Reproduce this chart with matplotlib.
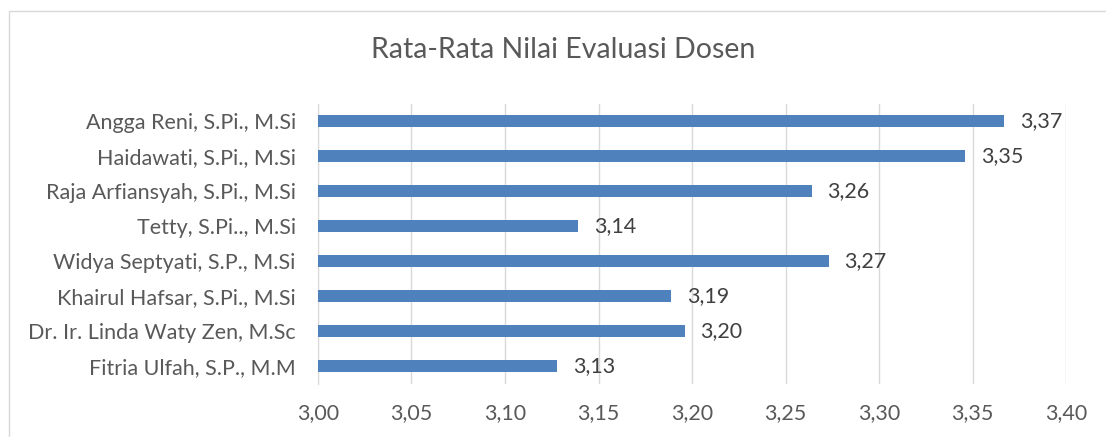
import matplotlib.pyplot as plt
from matplotlib.patches import Rectangle

plt.rcParams['font.family'] = ['Lato', 'DejaVu Sans']

dosen = ["Fitria Ulfah, S.P., M.M",
         "Dr. Ir. Linda Waty Zen, M.Sc",
         "Khairul Hafsar, S.Pi., M.Si",
         "Widya Septyati, S.P., M.Si",
         "Tetty, S.Pi.., M.Si",
         "Raja Arfiansyah, S.Pi., M.Si",
         "Haidawati, S.Pi., M.Si",
         "Angga Reni, S.Pi., M.Si"]
nilai = [3.128, 3.196, 3.189, 3.273, 3.139, 3.264, 3.346, 3.367]
xticks = [3.00, 3.05, 3.10, 3.15, 3.20, 3.25, 3.30, 3.35, 3.40]

fig = plt.figure(figsize=(11.06, 4.37), dpi=100)
ax = fig.add_axes([318/1106, 1-383.5/437, 748/1106, 280/437])

y = range(len(dosen))
ax.barh(y, [v - 3.0 for v in nilai], left=3.0, height=0.37, color='#4f81bd', zorder=3)
for i, v in zip(y, nilai):
    ax.text(v + 0.0085, i, f"{v:.2f}".replace('.', ','), va='center', ha='left',
            fontsize=15.5, color='#404040')

ax.set_xlim(3.0, 3.4)
ax.set_ylim(-0.5, len(dosen) - 0.5)
ax.set_xticks(xticks)
ax.set_xticklabels([f"{t:.2f}".replace('.', ',') for t in xticks], fontsize=15.5, color='#595959')
ax.set_yticks(list(y))
ax.set_yticklabels(dosen, fontsize=15.5, color='#595959')
ax.tick_params(axis='x', length=0, pad=14)
ax.tick_params(axis='y', length=0, pad=16)
ax.xaxis.grid(True, color='#d9d9d9', linewidth=1, zorder=0)
for s in ['top', 'right', 'bottom']:
    ax.spines[s].set_visible(False)
ax.spines['left'].set_color('#d9d9d9')

fig.text(563/1106, 1-50/437, "Rata-Rata Nilai Evaluasi Dosen", ha='center', va='center',
         fontsize=20.5, color='#595959')

fig.patches.append(Rectangle((9/1106, -0.1), 1.2, 1-11/437+0.1, transform=fig.transFigure,
                             fill=False, edgecolor='#d9d9d9', linewidth=1))

fig.savefig("out.png", dpi=100)
